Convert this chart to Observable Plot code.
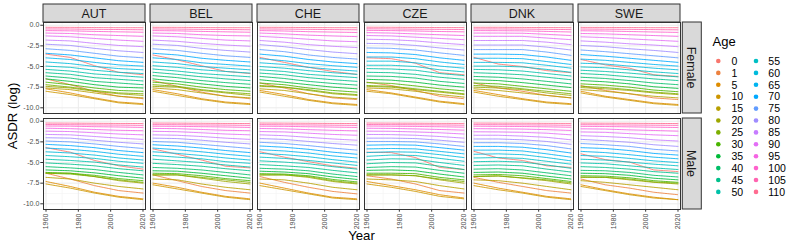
<!DOCTYPE html>
<html><head><meta charset="utf-8">
<script src="https://cdn.jsdelivr.net/npm/d3@7"></script>
<script src="https://cdn.jsdelivr.net/npm/@observablehq/plot@0.6"></script>
<style>
html,body{margin:0;padding:0;background:#fff;}
#chart{width:793px;height:248px;}
</style></head><body><div id="chart"></div>
<script>
const countries = ["AUT","BEL","CHE","CZE","DNK","SWE"];
const sexes = ["Female","Male"];
const ages = [0,1,5,10,15,20,25,30,35,40,45,50,55,60,65,70,75,80,85,90,95,100,105,110];
const years = [1960,1975,1990,2005,2020];
const xTicks = [1960,1980,2000,2020];
const xMinor = [1970,1990,2010];
const yTicks = [0,-2.5,-5,-7.5,-10];
const yMinor = [-1.25,-3.75,-6.25,-8.75];

// log ASDR per age (rows: ages) at the years above
const Female_AUT = [
[-3.5,-3.9,-4.9,-5.7,-6.0],[-6.5,-7.2,-8.0,-8.6,-8.9],[-7.7,-8.2,-8.8,-9.3,-9.5],[-8.0,-8.4,-8.9,-9.4,-9.6],
[-7.6,-7.8,-8.2,-8.6,-8.8],[-7.4,-7.6,-8.0,-8.3,-8.5],[-7.2,-7.5,-7.9,-8.2,-8.3],[-6.9,-7.2,-7.6,-7.9,-8.0],
[-6.5,-6.8,-7.2,-7.5,-7.6],[-6.15,-6.4,-6.8,-7.0,-7.2],[-5.75,-5.95,-6.35,-6.55,-6.75],[-5.35,-5.55,-5.9,-6.1,-6.3],
[-4.95,-5.1,-5.45,-5.7,-5.85],[-4.45,-4.65,-5.0,-5.25,-5.4],[-3.95,-4.15,-4.5,-4.8,-4.95],[-3.4,-3.6,-3.95,-4.3,-4.5],
[-2.85,-3.05,-3.4,-3.75,-3.95],[-2.3,-2.45,-2.8,-3.1,-3.3],[-1.8,-1.9,-2.2,-2.45,-2.6],[-1.3,-1.4,-1.6,-1.8,-1.95],
[-0.95,-1.0,-1.15,-1.25,-1.35],[-0.65,-0.68,-0.75,-0.8,-0.85],[-0.45,-0.46,-0.5,-0.52,-0.55],[-0.25,-0.26,-0.28,-0.3,-0.3]];
const Female_BEL = [
[-3.6,-4.2,-4.9,-5.6,-5.85],[-6.7,-7.4,-8.1,-8.6,-8.9],[-7.8,-8.3,-8.9,-9.3,-9.5],[-8.0,-8.5,-9.0,-9.4,-9.6],
[-7.6,-7.8,-8.2,-8.6,-8.8],[-7.4,-7.5,-7.9,-8.2,-8.5],[-7.2,-7.4,-7.8,-8.1,-8.3],[-6.9,-7.1,-7.5,-7.8,-8.0],
[-6.5,-6.8,-7.1,-7.4,-7.6],[-6.1,-6.35,-6.7,-6.95,-7.15],[-5.7,-5.95,-6.25,-6.5,-6.7],[-5.3,-5.55,-5.85,-6.05,-6.25],
[-4.9,-5.1,-5.4,-5.6,-5.8],[-4.45,-4.65,-5.0,-5.2,-5.4],[-3.95,-4.15,-4.55,-4.75,-4.95],[-3.4,-3.6,-4.0,-4.25,-4.45],
[-2.85,-3.05,-3.4,-3.7,-3.9],[-2.3,-2.45,-2.8,-3.05,-3.25],[-1.8,-1.95,-2.2,-2.4,-2.55],[-1.3,-1.4,-1.6,-1.8,-1.9],
[-0.95,-1.0,-1.15,-1.25,-1.3],[-0.65,-0.68,-0.75,-0.8,-0.85],[-0.45,-0.47,-0.5,-0.52,-0.55],[-0.25,-0.26,-0.28,-0.3,-0.3]];
const Female_CHE = [
[-3.9,-4.5,-5.1,-5.6,-5.95],[-7.0,-7.6,-8.3,-8.8,-9.0],[-7.9,-8.4,-9.0,-9.4,-9.6],[-8.1,-8.6,-9.1,-9.5,-9.7],
[-7.7,-7.9,-8.3,-8.7,-8.9],[-7.4,-7.5,-7.9,-8.3,-8.5],[-7.3,-7.5,-7.8,-8.2,-8.4],[-7.0,-7.2,-7.6,-7.9,-8.1],
[-6.6,-6.9,-7.2,-7.5,-7.7],[-6.2,-6.45,-6.8,-7.05,-7.25],[-5.8,-6.0,-6.35,-6.6,-6.8],[-5.4,-5.6,-5.95,-6.15,-6.35],
[-5.0,-5.2,-5.5,-5.75,-5.95],[-4.55,-4.75,-5.1,-5.35,-5.55],[-4.05,-4.3,-4.65,-4.9,-5.1],[-3.5,-3.75,-4.15,-4.45,-4.65],
[-2.95,-3.2,-3.6,-3.9,-4.1],[-2.35,-2.6,-2.95,-3.25,-3.45],[-1.85,-2.05,-2.35,-2.55,-2.7],[-1.35,-1.5,-1.7,-1.9,-2.0],
[-0.95,-1.05,-1.2,-1.3,-1.38],[-0.65,-0.7,-0.78,-0.83,-0.88],[-0.45,-0.47,-0.5,-0.53,-0.55],[-0.25,-0.26,-0.28,-0.3,-0.3]];
const Female_CZE = [
[-3.95,-4.05,-4.6,-5.75,-6.0],[-6.9,-7.3,-7.9,-8.6,-8.9],[-7.8,-8.2,-8.7,-9.2,-9.5],[-8.0,-8.3,-8.8,-9.3,-9.6],
[-7.6,-7.7,-8.0,-8.4,-8.7],[-7.4,-7.5,-7.8,-8.1,-8.4],[-7.3,-7.4,-7.7,-8.0,-8.3],[-6.95,-7.05,-7.35,-7.7,-7.95],
[-6.55,-6.65,-6.9,-7.25,-7.5],[-6.15,-6.2,-6.4,-6.8,-7.05],[-5.7,-5.75,-5.95,-6.3,-6.55],[-5.25,-5.3,-5.45,-5.85,-6.1],
[-4.85,-4.85,-5.0,-5.4,-5.65],[-4.35,-4.35,-4.55,-4.95,-5.2],[-3.85,-3.85,-4.05,-4.45,-4.75],[-3.3,-3.35,-3.55,-3.95,-4.25],
[-2.75,-2.8,-3.0,-3.35,-3.65],[-2.2,-2.25,-2.45,-2.75,-3.0],[-1.7,-1.75,-1.9,-2.15,-2.35],[-1.25,-1.3,-1.45,-1.6,-1.75],
[-0.9,-0.95,-1.05,-1.15,-1.25],[-0.62,-0.65,-0.7,-0.76,-0.8],[-0.43,-0.45,-0.48,-0.5,-0.52],[-0.24,-0.25,-0.27,-0.28,-0.29]];
const Female_DNK = [
[-3.9,-4.7,-5.0,-5.5,-5.75],[-7.0,-7.6,-8.0,-8.5,-8.8],[-7.9,-8.4,-8.9,-9.3,-9.5],[-8.1,-8.6,-9.0,-9.4,-9.6],
[-7.7,-7.9,-8.2,-8.5,-8.8],[-7.5,-7.6,-7.8,-8.2,-8.5],[-7.3,-7.4,-7.7,-8.0,-8.3],[-7.0,-7.1,-7.4,-7.7,-8.0],
[-6.6,-6.7,-6.95,-7.25,-7.55],[-6.2,-6.3,-6.5,-6.8,-7.1],[-5.75,-5.85,-6.0,-6.3,-6.6],[-5.35,-5.4,-5.55,-5.85,-6.15],
[-4.95,-4.95,-5.05,-5.35,-5.7],[-4.5,-4.5,-4.55,-4.85,-5.2],[-4.0,-4.0,-4.05,-4.4,-4.75],[-3.5,-3.5,-3.55,-3.85,-4.25],
[-2.95,-2.95,-2.95,-3.25,-3.65],[-2.4,-2.4,-2.4,-2.65,-3.0],[-1.85,-1.85,-1.85,-2.05,-2.35],[-1.35,-1.35,-1.35,-1.55,-1.75],
[-0.95,-0.95,-0.97,-1.1,-1.25],[-0.65,-0.66,-0.68,-0.75,-0.82],[-0.45,-0.45,-0.47,-0.5,-0.53],[-0.25,-0.25,-0.27,-0.28,-0.3]];
const Female_SWE = [
[-4.15,-4.8,-5.2,-6.0,-6.2],[-7.3,-7.9,-8.3,-8.8,-9.0],[-8.0,-8.6,-9.0,-9.4,-9.6],[-8.2,-8.7,-9.1,-9.5,-9.7],
[-7.8,-8.0,-8.3,-8.6,-8.8],[-7.55,-7.7,-7.9,-8.2,-8.4],[-7.4,-7.55,-7.8,-8.1,-8.3],[-7.1,-7.25,-7.5,-7.85,-8.05],
[-6.7,-6.85,-7.1,-7.45,-7.65],[-6.3,-6.45,-6.7,-7.0,-7.2],[-5.85,-6.0,-6.25,-6.5,-6.7],[-5.45,-5.6,-5.8,-6.05,-6.25],
[-5.05,-5.15,-5.4,-5.65,-5.85],[-4.6,-4.7,-4.95,-5.2,-5.4],[-4.1,-4.25,-4.5,-4.75,-4.95],[-3.55,-3.75,-4.0,-4.25,-4.5],
[-3.0,-3.2,-3.45,-3.7,-3.95],[-2.45,-2.6,-2.85,-3.05,-3.3],[-1.9,-2.05,-2.25,-2.4,-2.6],[-1.4,-1.5,-1.65,-1.8,-1.95],
[-1.0,-1.05,-1.15,-1.25,-1.35],[-0.67,-0.7,-0.76,-0.82,-0.87],[-0.46,-0.48,-0.5,-0.53,-0.56],[-0.26,-0.27,-0.28,-0.3,-0.3]];
const Male_AUT = [
[-3.2,-3.75,-4.75,-5.4,-5.8],[-6.3,-7.0,-7.8,-8.4,-8.7],[-7.3,-7.9,-8.6,-9.1,-9.4],[-7.6,-8.1,-8.7,-9.2,-9.5],
[-6.8,-7.0,-7.5,-7.9,-8.2],[-6.3,-6.3,-6.7,-7.2,-7.5],[-6.3,-6.4,-6.7,-7.1,-7.4],[-6.2,-6.3,-6.55,-6.95,-7.2],
[-5.9,-6.0,-6.25,-6.6,-6.9],[-5.5,-5.65,-5.85,-6.2,-6.5],[-5.05,-5.2,-5.4,-5.75,-6.0],[-4.6,-4.75,-4.95,-5.3,-5.55],
[-4.15,-4.3,-4.5,-4.85,-5.1],[-3.7,-3.85,-4.1,-4.45,-4.7],[-3.25,-3.4,-3.65,-4.0,-4.25],[-2.8,-2.95,-3.2,-3.55,-3.8],
[-2.4,-2.5,-2.75,-3.05,-3.3],[-2.0,-2.05,-2.3,-2.55,-2.75],[-1.6,-1.65,-1.85,-2.05,-2.2],[-1.2,-1.25,-1.4,-1.55,-1.65],
[-0.85,-0.9,-1.0,-1.1,-1.15],[-0.58,-0.6,-0.66,-0.7,-0.75],[-0.4,-0.42,-0.45,-0.47,-0.5],[-0.22,-0.23,-0.25,-0.27,-0.28]];
const Male_BEL = [
[-3.35,-4.0,-4.7,-5.45,-5.65],[-6.5,-7.2,-7.9,-8.4,-8.7],[-7.5,-8.0,-8.6,-9.1,-9.4],[-7.7,-8.2,-8.7,-9.2,-9.5],
[-7.0,-7.1,-7.6,-8.0,-8.3],[-6.5,-6.5,-6.9,-7.3,-7.6],[-6.5,-6.5,-6.8,-7.1,-7.4],[-6.3,-6.35,-6.6,-6.95,-7.2],
[-6.0,-6.05,-6.3,-6.6,-6.9],[-5.6,-5.7,-5.9,-6.2,-6.5],[-5.1,-5.25,-5.45,-5.75,-6.0],[-4.6,-4.8,-5.0,-5.3,-5.55],
[-4.15,-4.35,-4.55,-4.9,-5.1],[-3.7,-3.9,-4.15,-4.45,-4.7],[-3.25,-3.45,-3.7,-4.0,-4.25],[-2.85,-3.0,-3.25,-3.55,-3.8],
[-2.45,-2.55,-2.8,-3.05,-3.3],[-2.05,-2.1,-2.3,-2.55,-2.75],[-1.65,-1.7,-1.85,-2.05,-2.2],[-1.22,-1.27,-1.4,-1.55,-1.65],
[-0.87,-0.9,-1.0,-1.1,-1.15],[-0.6,-0.62,-0.66,-0.7,-0.75],[-0.41,-0.42,-0.45,-0.47,-0.5],[-0.22,-0.23,-0.25,-0.27,-0.28]];
const Male_CHE = [
[-3.7,-4.35,-4.9,-5.4,-5.7],[-6.7,-7.4,-8.0,-8.5,-8.8],[-7.5,-8.1,-8.7,-9.2,-9.4],[-7.8,-8.3,-8.8,-9.3,-9.5],
[-7.0,-7.1,-7.5,-8.0,-8.3],[-6.5,-6.5,-6.8,-7.3,-7.6],[-6.5,-6.5,-6.7,-7.2,-7.5],[-6.35,-6.4,-6.6,-7.05,-7.35],
[-6.05,-6.15,-6.35,-6.75,-7.05],[-5.7,-5.8,-6.0,-6.4,-6.7],[-5.25,-5.4,-5.6,-5.95,-6.25],[-4.8,-4.95,-5.15,-5.5,-5.8],
[-4.35,-4.5,-4.75,-5.05,-5.35],[-3.9,-4.05,-4.3,-4.65,-4.95],[-3.45,-3.6,-3.85,-4.2,-4.45],[-3.0,-3.15,-3.4,-3.75,-4.0],
[-2.55,-2.7,-2.95,-3.25,-3.5],[-2.1,-2.2,-2.45,-2.7,-2.9],[-1.65,-1.75,-1.95,-2.15,-2.3],[-1.25,-1.3,-1.45,-1.6,-1.7],
[-0.88,-0.92,-1.02,-1.1,-1.17],[-0.6,-0.62,-0.67,-0.71,-0.75],[-0.41,-0.43,-0.45,-0.48,-0.5],[-0.22,-0.23,-0.25,-0.27,-0.28]];
const Male_CZE = [
[-3.75,-3.8,-4.4,-5.6,-5.85],[-6.6,-7.0,-7.6,-8.4,-8.7],[-7.3,-7.8,-8.3,-8.9,-9.3],[-7.6,-8.0,-8.5,-9.1,-9.4],
[-7.0,-7.1,-7.3,-7.8,-8.2],[-6.5,-6.5,-6.6,-7.1,-7.5],[-6.5,-6.5,-6.6,-7.0,-7.3],[-6.3,-6.3,-6.35,-6.8,-7.1],
[-5.95,-5.9,-6.0,-6.4,-6.75],[-5.6,-5.5,-5.55,-5.95,-6.3],[-5.15,-5.0,-5.05,-5.45,-5.85],[-4.7,-4.55,-4.6,-5.0,-5.35],
[-4.25,-4.1,-4.15,-4.5,-4.85],[-3.8,-3.7,-3.75,-4.05,-4.4],[-3.35,-3.3,-3.35,-3.65,-3.95],[-2.9,-2.85,-2.9,-3.2,-3.5],
[-2.45,-2.45,-2.5,-2.75,-3.05],[-2.05,-2.05,-2.1,-2.3,-2.55],[-1.6,-1.62,-1.7,-1.85,-2.05],[-1.2,-1.22,-1.3,-1.4,-1.55],
[-0.85,-0.87,-0.93,-1.0,-1.08],[-0.58,-0.6,-0.63,-0.67,-0.72],[-0.4,-0.41,-0.43,-0.45,-0.48],[-0.22,-0.23,-0.24,-0.26,-0.27]];
const Male_DNK = [
[-3.65,-4.45,-4.75,-5.4,-5.6],[-6.8,-7.4,-7.9,-8.4,-8.7],[-7.5,-8.1,-8.6,-9.1,-9.4],[-7.8,-8.3,-8.7,-9.2,-9.5],
[-7.1,-7.2,-7.5,-7.9,-8.3],[-6.7,-6.6,-6.9,-7.2,-7.6],[-6.7,-6.65,-6.85,-7.1,-7.45],[-6.5,-6.45,-6.6,-6.95,-7.3],
[-6.2,-6.15,-6.3,-6.65,-7.0],[-5.8,-5.75,-5.9,-6.25,-6.6],[-5.35,-5.3,-5.4,-5.8,-6.15],[-4.9,-4.85,-4.95,-5.3,-5.7],
[-4.45,-4.4,-4.5,-4.85,-5.2],[-4.0,-3.95,-4.05,-4.4,-4.8],[-3.5,-3.5,-3.6,-3.95,-4.35],[-3.05,-3.05,-3.15,-3.45,-3.85],
[-2.6,-2.6,-2.7,-2.95,-3.35],[-2.15,-2.15,-2.25,-2.45,-2.8],[-1.7,-1.7,-1.8,-1.95,-2.25],[-1.28,-1.3,-1.35,-1.45,-1.65],
[-0.9,-0.92,-0.95,-1.02,-1.12],[-0.6,-0.62,-0.64,-0.68,-0.73],[-0.41,-0.42,-0.44,-0.46,-0.49],[-0.22,-0.23,-0.24,-0.26,-0.27]];
const Male_SWE = [
[-3.95,-4.65,-4.95,-5.9,-6.1],[-7.0,-7.7,-8.1,-8.6,-8.9],[-7.7,-8.3,-8.8,-9.2,-9.5],[-7.9,-8.4,-8.9,-9.3,-9.5],
[-7.2,-7.4,-7.7,-8.0,-8.3],[-6.8,-6.8,-7.1,-7.4,-7.6],[-6.75,-6.8,-7.0,-7.35,-7.5],[-6.6,-6.65,-6.85,-7.2,-7.4],
[-6.3,-6.35,-6.55,-6.9,-7.1],[-5.95,-6.0,-6.2,-6.55,-6.75],[-5.5,-5.6,-5.8,-6.1,-6.3],[-5.05,-5.15,-5.4,-5.65,-5.85],
[-4.6,-4.7,-4.95,-5.2,-5.4],[-4.15,-4.25,-4.5,-4.8,-5.0],[-3.65,-3.8,-4.05,-4.35,-4.55],[-3.2,-3.3,-3.55,-3.9,-4.1],
[-2.7,-2.85,-3.05,-3.4,-3.6],[-2.2,-2.35,-2.55,-2.85,-3.05],[-1.75,-1.85,-2.0,-2.25,-2.4],[-1.3,-1.35,-1.5,-1.65,-1.75],
[-0.92,-0.95,-1.05,-1.12,-1.2],[-0.62,-0.64,-0.68,-0.72,-0.76],[-0.42,-0.43,-0.46,-0.48,-0.5],[-0.23,-0.24,-0.25,-0.27,-0.28]];

const panels = {
  Female: {AUT: Female_AUT, BEL: Female_BEL, CHE: Female_CHE, CZE: Female_CZE, DNK: Female_DNK, SWE: Female_SWE},
  Male: {AUT: Male_AUT, BEL: Male_BEL, CHE: Male_CHE, CZE: Male_CZE, DNK: Male_DNK, SWE: Male_SWE}
};
const rows = [];
for (const s of sexes) for (const c of countries)
  panels[s][c].forEach((vals, i) => vals.forEach((v, j) =>
    rows.push({country: c, sex: s, age: ages[i], year: years[j], value: v})));

// ggplot2 default hue palette (polar LUV, c=100, l=65)
function hclColor(h, c, l) {
  const hr = h * Math.PI / 180;
  const U = c * Math.cos(hr), V = c * Math.sin(hr);
  const Y = l > 8 ? Math.pow((l + 16) / 116, 3) : l / 903.3;
  const u = U / (13 * l) + 0.1978398, v = V / (13 * l) + 0.4683363;
  const X = 9 * Y * u / (4 * v), Z = -X / 3 - 5 * Y + 3 * Y / v;
  const lin = [
    3.240479 * X - 1.537150 * Y - 0.498535 * Z,
    -0.969256 * X + 1.875992 * Y + 0.041556 * Z,
    0.055648 * X - 0.204043 * Y + 1.057311 * Z];
  return "#" + lin.map(t => {
    let g = t > 0.00304 ? 1.055 * Math.pow(t, 1 / 2.4) - 0.055 : 12.92 * t;
    g = Math.max(0, Math.min(1, g));
    return Math.round(g * 255).toString(16).padStart(2, "0");
  }).join("");
}
const ageColors = ages.map((a, i) => hclColor(15 + 360 * i / ages.length, 100, 65));

const W = 793, H = 248, ML = 40.7, MR = 110.7, MT = 22, MB = 38;
const font = "'Liberation Sans', Arial, Helvetica, sans-serif";

const chart = Plot.plot({
  width: W, height: H,
  marginLeft: ML, marginRight: MR, marginTop: MT, marginBottom: MB,
  style: {fontFamily: font, background: "#fff", overflow: "visible"},
  x: {domain: [1958.45, 2021.55], label: null},
  y: {domain: [-10.69, 0.33], label: null},
  fx: {domain: countries, paddingInner: 0.051, paddingOuter: 0, axis: null, label: null},
  fy: {domain: sexes, paddingInner: 0.052, paddingOuter: 0, axis: null, label: null},
  color: {type: "ordinal", domain: ages, range: ageColors},
  marks: [
    Plot.gridX(xMinor, {stroke: "#f2f2f2", strokeOpacity: 1, strokeWidth: 0.6}),
    Plot.gridY(yMinor, {stroke: "#f2f2f2", strokeOpacity: 1, strokeWidth: 0.6}),
    Plot.gridX(xTicks, {stroke: "#ebebeb", strokeOpacity: 1, strokeWidth: 1}),
    Plot.gridY(yTicks, {stroke: "#ebebeb", strokeOpacity: 1, strokeWidth: 1}),
    Plot.line(rows, {x: "year", y: "value", z: "age", stroke: "age", fx: "country", fy: "sex",
      strokeWidth: 1, strokeOpacity: 0.85, strokeDasharray: "1 0.7"}),
    Plot.frame({stroke: "#333333", strokeWidth: 1}),
    Plot.axisX(xTicks, {anchor: "bottom", facetAnchor: "bottom", tickRotate: -90, tickSize: 2.7,
      tickPadding: 1.5, fontSize: 7, stroke: "#333333", fill: "#4d4d4d", label: null,
      tickFormat: d => String(d)}),
    Plot.axisY(yTicks, {anchor: "left", facetAnchor: "left", tickSize: 2.7, tickPadding: 1.5,
      fontSize: 7, stroke: "#333333", fill: "#4d4d4d", label: null,
      tickFormat: d => d.toFixed(1)})
  ]
});
document.getElementById("chart").appendChild(chart);

// strips, axis titles and legend
const svg = d3.select(chart);
const fxS = chart.scale("fx"), fyS = chart.scale("fy");
const g = svg.append("g").attr("font-family", font);
for (const c of countries) {
  const x0 = fxS.apply(c), w = fxS.bandwidth;
  g.append("rect").attr("x", x0).attr("y", 4).attr("width", w).attr("height", 18)
    .attr("fill", "#d9d9d9").attr("stroke", "#333333").attr("stroke-width", 1);
  g.append("text").attr("x", x0 + w / 2).attr("y", 13).attr("dy", "0.36em")
    .attr("text-anchor", "middle").attr("font-size", 12.5).attr("fill", "#1a1a1a").text(c);
}
const xr = W - MR;
for (const s of sexes) {
  const y0 = fyS.apply(s), h = fyS.bandwidth;
  g.append("rect").attr("x", xr).attr("y", y0).attr("width", 19).attr("height", h)
    .attr("fill", "#d9d9d9").attr("stroke", "#333333").attr("stroke-width", 1);
  g.append("text").attr("transform", `translate(${xr + 9.5},${y0 + h / 2}) rotate(90)`)
    .attr("dy", "0.36em").attr("text-anchor", "middle").attr("font-size", 12.5)
    .attr("fill", "#1a1a1a").text(s);
}
g.append("text").attr("transform", `translate(12,${(MT + H - MB) / 2}) rotate(-90)`)
  .attr("dy", "0.36em").attr("text-anchor", "middle").attr("font-size", 13.2).attr("fill", "#000")
  .text("ASDR (log)");
g.append("text").attr("x", (ML + xr) / 2).attr("y", 240).attr("text-anchor", "middle")
  .attr("font-size", 13.2).attr("fill", "#000").text("Year");

const lg = g.append("g").attr("text-anchor", "start");
lg.append("text").attr("x", 712.5).attr("y", 46).attr("text-anchor", "start")
  .attr("font-size", 13).attr("fill", "#000").text("Age");
ages.forEach((a, i) => {
  const col = Math.floor(i / 12), row = i % 12;
  const cy = 61 + row * 11.9;
  lg.append("circle").attr("cx", 718.3 + col * 37.7).attr("cy", cy).attr("r", 2.3).attr("fill", ageColors[i]);
  lg.append("text").attr("x", 731.5 + col * 36.8).attr("y", cy).attr("dy", "0.36em")
    .attr("text-anchor", "start").attr("font-size", 10.5).attr("fill", "#000").text(a);
});
</script></body></html>
